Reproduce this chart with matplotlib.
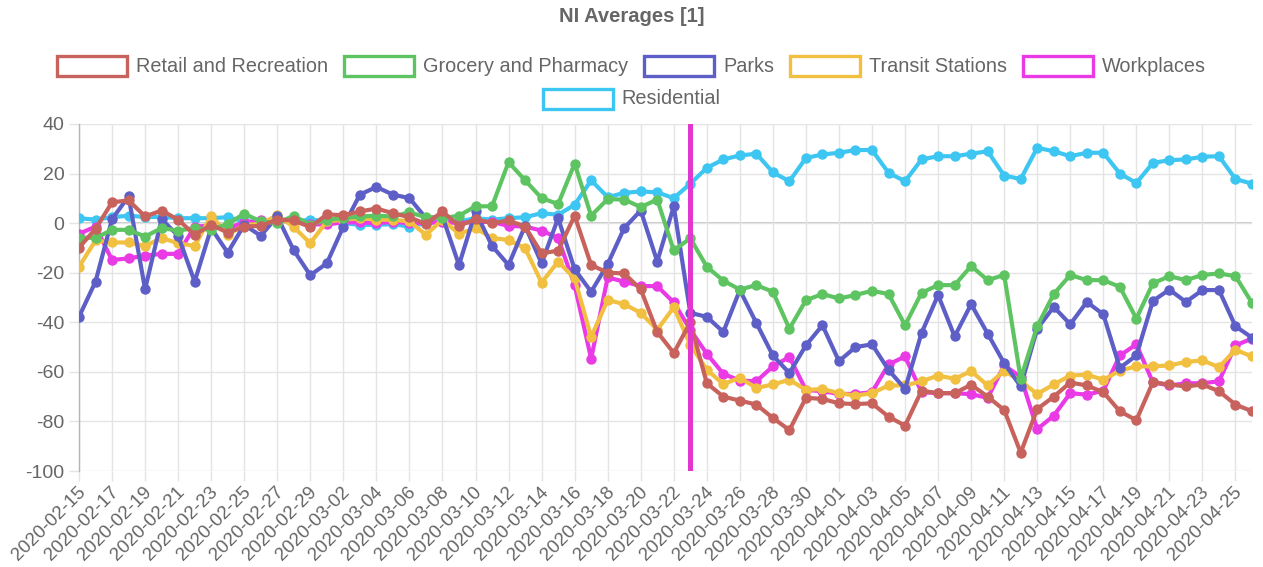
import matplotlib
matplotlib.use("Agg")
import matplotlib.pyplot as plt
import matplotlib.transforms as mtransforms
from matplotlib.patches import Rectangle
import pandas as pd

plt.rcParams['font.family'] = ['Liberation Sans', 'DejaVu Sans']
plt.rcParams['axes.unicode_minus'] = False

dates = pd.date_range("2020-02-15", "2020-04-26", freq="D")

retail = [-9.9, -2.3, 8.4, 9.2, 2.7, 5.1, 1.4, -4.7, -0.7, -3.8,
          -1.4, -1.1, 1.4, 1.1, -1.6, 3.5, 3.2, 4.7, 5.9, 4.0,
          2.4, -0.4, 4.7, -1.1, 1.6, 0.0, 1.1, -1.4, -12.2, -11.1,
          3.0, -16.9, -20.0, -20.3, -26.7, -43.9, -52.4, -40.0, -64.6, -70.0,
          -71.6, -73.2, -78.6, -83.5, -70.5, -70.9, -72.7, -73.0, -72.7, -78.1,
          -81.7, -67.6, -68.6, -68.6, -65.2, -70.0, -75.4, -92.6, -75.0, -70.0,
          -64.3, -65.5, -68.2, -75.9, -79.5, -64.2, -65.1, -65.9, -65.1, -67.8,
          -73.2, -75.9]

grocery = [-5.8, -6.0, -2.7, -2.7, -5.4, -2.0, -3.0, -2.0, -2.7, -0.3,
           3.8, 0.7, 0.0, 3.0, -0.7, 1.4, 2.0, 2.7, 3.0, 2.7,
           4.3, 2.4, 2.0, 3.0, 6.8, 6.8, 24.6, 17.3, 10.1, 7.7,
           24.0, 3.0, 9.7, 9.5, 6.5, 9.5, -11.0, -6.1, -17.6, -23.2,
           -26.8, -25.0, -27.7, -42.6, -31.1, -28.6, -30.4, -29.0, -27.3, -28.6,
           -41.2, -28.1, -25.0, -25.0, -17.3, -23.0, -20.9, -62.8, -41.6, -28.6,
           -20.9, -23.0, -23.0, -25.7, -38.5, -24.3, -21.4, -23.0, -20.9, -20.3,
           -21.4, -32.2]

parks = [-37.8, -23.6, 1.6, 10.8, -26.7, 1.6, -5.1, -23.6, -2.0, -11.9,
         -0.7, -5.1, 2.7, -11.0, -21.0, -16.2, -1.4, 11.5, 14.6, 11.5,
         10.1, 2.0, 2.7, -16.9, 4.7, -9.2, -16.9, -1.1, -16.2, 2.0,
         -18.6, -27.7, -16.5, -2.0, 5.1, -15.5, 6.8, -36.2, -37.8, -43.9,
         -27.0, -40.3, -53.4, -60.5, -49.3, -41.2, -55.7, -50.0, -48.9, -59.2,
         -66.9, -44.3, -29.0, -45.7, -32.7, -44.6, -56.5, -65.9, -42.6, -33.8,
         -40.8, -31.8, -36.8, -58.4, -53.4, -31.4, -26.8, -31.8, -27.0, -27.0,
         -41.6, -46.2]

transit = [-17.6, -7.0, -7.8, -7.8, -9.2, -6.0, -8.1, -9.2, 3.0, -4.7,
           -0.7, -0.3, 3.2, -1.6, -8.1, 0.7, 1.4, 2.0, 1.4, 1.4,
           0.7, -4.7, 1.4, -4.3, -2.0, -6.0, -6.8, -10.1, -24.0, -15.5,
           -22.3, -45.9, -31.0, -32.7, -36.2, -43.0, -34.0, -49.0, -59.2, -64.9,
           -62.4, -66.5, -65.1, -63.2, -67.3, -66.9, -68.6, -69.6, -68.6, -65.5,
           -65.5, -63.8, -61.5, -62.8, -59.7, -65.5, -59.5, -63.8, -68.9, -65.1,
           -61.5, -61.1, -63.2, -59.5, -57.8, -57.8, -57.4, -56.0, -55.4, -58.1,
           -51.1, -53.8]

workplaces = [-4.3, -1.4, -14.9, -14.2, -13.1, -12.4, -12.4, -1.4, -1.0, -2.0,
              0.3, 1.1, 1.0, 0.5, -0.5, -0.5, 0.3, 0.3, 0.0, 0.5,
              0.0, 0.0, 0.5, 0.0, 0.5, 0.5, -1.1, -1.4, -3.0, -6.0,
              -25.0, -54.7, -21.9, -23.6, -25.4, -25.4, -32.0, -43.0, -52.7, -60.8,
              -63.5, -63.8, -57.8, -54.0, -67.3, -67.8, -68.9, -68.9, -68.2, -57.0,
              -53.8, -68.2, -68.6, -68.6, -69.0, -70.5, -57.4, -62.0, -83.1, -77.7,
              -68.6, -69.2, -67.6, -53.4, -48.9, -64.2, -65.5, -64.6, -64.6, -63.8,
              -49.3, -46.6]

residential = [2.0, 1.4, 2.4, 3.0, 2.5, 2.5, 2.0, 2.0, 2.0, 2.4,
               0.7, 0.3, 1.4, 0.7, 1.4, 0.7, 0.0, -0.7, -0.7, -0.4,
               -1.4, 0.0, 0.7, 0.7, 2.0, 1.4, 2.0, 2.4, 4.0, 3.4,
               7.4, 17.3, 10.5, 12.2, 12.8, 12.4, 10.1, 15.9, 22.3, 25.7,
               27.3, 28.0, 20.5, 16.9, 26.3, 27.7, 28.4, 29.5, 29.5, 20.3,
               16.9, 25.7, 27.0, 27.0, 28.0, 29.0, 19.2, 17.8, 30.4, 29.0,
               27.0, 28.4, 28.4, 20.0, 16.2, 24.3, 25.4, 25.7, 26.8, 27.0,
               17.8, 15.9]

series_names = ["Retail and Recreation", "Grocery and Pharmacy", "Parks",
                "Transit Stations", "Workplaces", "Residential"]
series_values = [retail, grocery, parks, transit, workplaces, residential]
colors = ["#c8625c", "#5ec462", "#5d5fc6", "#f1c040", "#e93ae6", "#3ec6f2"]

lockdown_date = pd.Timestamp("2020-03-23")
title = "NI Averages [1]"

W, H = 1263, 567
fig = plt.figure(figsize=(W / 100, H / 100), dpi=100)
ax = fig.add_axes([79 / W, 1 - 471 / H, (1252 - 79) / W, (471 - 124) / H])

n = len(series_names)
for i, (name, vals, c) in enumerate(zip(series_names, series_values, colors)):
    ax.plot(dates, vals, color=c, lw=3.0, marker="o", markersize=7.5,
            markeredgewidth=0, zorder=10 + (n - i))

ax.axvline(lockdown_date, color="#e136cf", lw=3.6, zorder=30)

ax.set_ylim(-100, 40)
ax.set_yticks(range(-100, 41, 20))
ax.set_xlim(dates[0], dates[-1])
tick_dates = dates[::2]
ax.set_xticks(tick_dates)
ax.set_xticklabels([d.strftime("%Y-%m-%d") for d in tick_dates], rotation=45,
                   ha="right", va="center", rotation_mode="anchor")

ax.grid(True, color="#e4e4e4", lw=1.0, zorder=0)
ax.axhline(0, color="#bdbdbd", lw=1.2, zorder=1)
for s in ["top", "right", "bottom"]:
    ax.spines[s].set_visible(False)
ax.spines["left"].set_color("#b5b5b5")
ax.spines["left"].set_linewidth(1.0)
ax.tick_params(axis="both", colors="#e4e4e4", labelcolor="#666666",
               length=7.5, width=1.0)
ax.tick_params(axis="y", pad=3, labelsize=14)
ax.tick_params(axis="x", pad=6, labelsize=13.5)
offset = mtransforms.ScaledTranslation(4 / 100, 0, fig.dpi_scale_trans)
for lbl in ax.get_xticklabels():
    lbl.set_transform(lbl.get_transform() + offset)

fig.text(0.5, 1 - 16 / H, title, ha="center", va="center", fontsize=14.5,
         fontweight="bold", color="#666666")

# legend (chart.js style boxes)
fig.canvas.draw()
renderer = fig.canvas.get_renderer()
box_w, box_h, gap, spacing = 70, 20, 9, 16
rows = [list(range(5)), [5]]
row_y = [66, 99]
for ri, row in enumerate(rows):
    texts = []
    widths = []
    for i in row:
        t = fig.text(0, 0, series_names[i], fontsize=14.3, color="#666666",
                     ha="left", va="center")
        bb = t.get_window_extent(renderer)
        texts.append(t)
        widths.append(bb.width)
    total = sum(box_w + gap + w for w in widths) + spacing * (len(row) - 1)
    x = W / 2 - total / 2
    yc = row_y[ri]
    for k, i in enumerate(row):
        rect = Rectangle((x / W, 1 - (yc + box_h / 2) / H), box_w / W, box_h / H,
                         transform=fig.transFigure, facecolor="white",
                         edgecolor=colors[i], lw=2.4)
        fig.add_artist(rect)
        texts[k].set_position(((x + box_w + gap) / W, 1 - yc / H))
        x += box_w + gap + widths[k] + spacing

fig.savefig("out.png", dpi=100)
